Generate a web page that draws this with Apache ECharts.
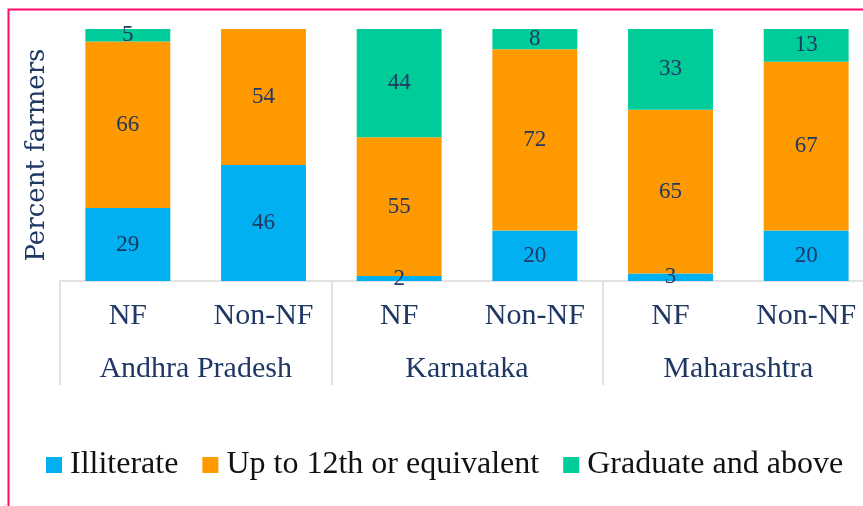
<!DOCTYPE html>
<html>
<head>
<meta charset="utf-8">
<script src="https://cdn.jsdelivr.net/npm/echarts@6/dist/echarts.min.js"></script>
<style>
html,body{margin:0;padding:0;background:#fff;overflow:hidden;width:863px;height:506px;}
#chart{width:880px;height:506px;}
</style>
</head>
<body>
<div id="chart"></div>
<script>
const farmerTypes = ['NF', 'Non-NF', 'NF', 'Non-NF', 'NF', 'Non-NF'];
const states = ['Andhra Pradesh', 'Karnataka', 'Maharashtra'];
const illiterate = [29, 46, 2, 20, 3, 20];
const upTo12th = [66, 54, 55, 72, 65, 67];
const graduate = [5, 0, 44, 8, 33, 13];
const seriesNames = ['Illiterate', 'Up to 12th or equivalent', 'Graduate and above'];

const navy = '#1F3864';
const serif = '"Liberation Serif", serif';
const chart = echarts.init(document.getElementById('chart'));

function mkSeries(name, data, color) {
  return {
    name: name,
    type: 'bar',
    stack: 'total',
    data: data,
    barWidth: '62.6%',
    clip: true,
    itemStyle: { color: color },
    label: {
      show: true,
      position: 'inside',
      color: navy,
      fontFamily: serif,
      fontSize: 23,
      formatter: p => (p.value > 0 ? p.value : '')
    },
    emphasis: { disabled: true }
  };
}

chart.setOption({
  animation: false,
  graphic: [{
    type: 'rect',
    shape: { x: 8.5, y: 9.5, width: 900, height: 600 },
    style: { fill: 'none', stroke: '#FF0A6A', lineWidth: 2 },
    z: 100
  }],
  grid: { left: 60, top: 29, width: 814, height: 252, containLabel: false },
  legend: {
    left: 41,
    top: 444,
    icon: 'rect',
    itemWidth: 16,
    itemHeight: 16,
    itemGap: 24,
    data: seriesNames,
    textStyle: { fontFamily: serif, fontSize: 32, color: '#111', padding: [0, 0, 0, 3] }
  },
  xAxis: [{
    type: 'category',
    data: farmerTypes,
    position: 'bottom',
    axisLine: { show: true, lineStyle: { color: '#D9D9D9', width: 1.5 } },
    axisTick: { show: false },
    axisLabel: { interval: 0, margin: 20, fontFamily: serif, fontSize: 30, color: navy }
  }, {
    type: 'category',
    data: states,
    position: 'bottom',
    axisLine: { show: false },
    axisTick: { show: true, length: 104, lineStyle: { color: '#D9D9D9', width: 1.5 } },
    axisLabel: { interval: 0, margin: 73, fontFamily: serif, fontSize: 30, color: navy }
  }],
  yAxis: {
    type: 'value',
    min: 0,
    max: 100,
    name: 'Percent farmers',
    nameLocation: 'middle',
    nameGap: 10,
    nameTextStyle: { fontFamily: '"DejaVu Serif", serif', fontSize: 26, color: navy },
    axisLine: { show: false },
    axisTick: { show: false },
    axisLabel: { show: false },
    splitLine: { show: false }
  },
  series: [
    mkSeries(seriesNames[0], illiterate, '#00B0F0'),
    mkSeries(seriesNames[1], upTo12th, '#FF9900'),
    mkSeries(seriesNames[2], graduate, '#00CC99')
  ]
});
</script>
</body>
</html>
